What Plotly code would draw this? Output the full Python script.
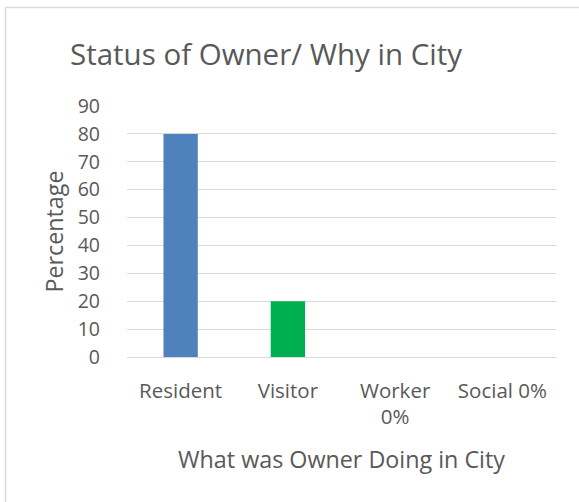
import plotly.graph_objects as go

categories = ["Resident", "Visitor", "Worker<br>0%", "Social 0%"]
values = [80, 20, 0, 0]
colors = ["#4F81BD", "#00B050", "#4F81BD", "#4F81BD"]
y_ticks = [0, 10, 20, 30, 40, 50, 60, 70, 80, 90]

W, H = 579, 502
L, R, T, B = 127, 23, 106, 145
text_color = "#595959"
font_family = "'Open Sans', sans-serif"

fig = go.Figure(go.Bar(x=categories, y=values, marker_color=colors,
                       marker_line_width=0, width=0.32))

fig.update_layout(
    width=W, height=H,
    margin=dict(l=L, r=R, t=T, b=B, pad=0),
    paper_bgcolor="white", plot_bgcolor="white",
    font=dict(family=font_family, color=text_color, size=20),
    title=dict(text="Status of Owner/ Why in City", x=266 / W, xanchor="center",
               y=1 - 55 / H, yanchor="middle", yref="container",
               font=dict(size=29.5, color=text_color, family=font_family)),
    showlegend=False,
    bargap=0.68,
)
fig.update_xaxes(
    showline=True, linecolor="#D9D9D9", linewidth=1, showgrid=False,
    ticks="", ticklabelstandoff=15,
    title=dict(text="What was Owner Doing in City", font=dict(size=23.3), standoff=22),
    tickfont=dict(size=20.5),
)
fig.update_yaxes(
    range=[0, 90], tickvals=y_ticks, showgrid=True, gridcolor="#D9D9D9", gridwidth=1,
    zeroline=False, showline=False, ticks="", ticklabelstandoff=26,
    title=dict(text="Percentage", font=dict(size=23.3), standoff=7),
    tickfont=dict(size=19.5),
)
# chart-area border (top and left edges visible)
pw, ph = W - L - R, H - T - B
fig.add_shape(type="line", xref="paper", yref="paper",
              x0=-(L - 5.5) / pw, x1=(W - L + 5) / pw,
              y0=1 + (T - 7.5) / ph, y1=1 + (T - 7.5) / ph,
              line=dict(color="#D9D9D9", width=1.5))
fig.add_shape(type="line", xref="paper", yref="paper",
              x0=-(L - 5.5) / pw, x1=-(L - 5.5) / pw,
              y0=1 + (T - 7.5) / ph, y1=-(B + 5) / ph,
              line=dict(color="#D9D9D9", width=1.5))

fig.write_html("out.html", config={"displayModeBar": False},
               post_script="document.body.style.margin='0';document.body.style.overflow='hidden';")
